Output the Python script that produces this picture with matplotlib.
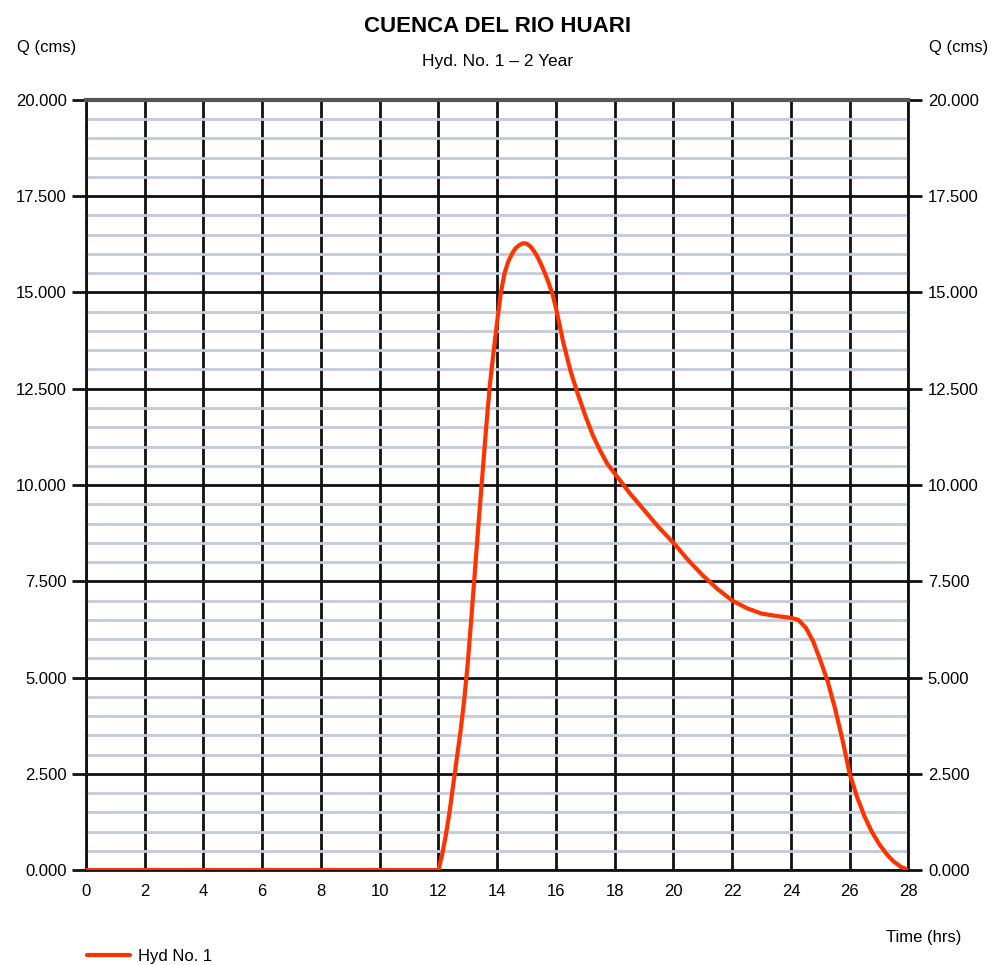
import matplotlib
matplotlib.use("Agg")
import matplotlib.pyplot as plt
from matplotlib.ticker import FormatStrFormatter, MultipleLocator

plt.rcParams['font.family'] = ['Liberation Sans', 'DejaVu Sans']

# hydrograph (time in hrs, Q in cms)
time_hrs = [0, 12.0, 12.125, 12.25, 12.375, 12.5, 12.625, 12.75, 12.875, 13.0,
            13.125, 13.25, 13.375, 13.5, 13.625, 13.75, 13.875, 14.0, 14.125,
            14.25, 14.375, 14.5, 14.625, 14.75, 14.875, 15.0, 15.125, 15.25,
            15.375, 15.5, 15.625, 15.75, 15.875, 16.0, 16.25, 16.5, 16.75,
            17.0, 17.25, 17.5, 17.75, 18.0, 18.5, 19.0, 19.5, 20.0, 20.5,
            21.0, 21.5, 22.0, 22.5, 23.0, 23.5, 24.0, 24.25, 24.5, 24.75,
            25.0, 25.25, 25.5, 25.75, 26.0, 26.25, 26.5, 26.75, 27.0, 27.25,
            27.5, 27.75, 28.0]
q_cms = [0, 0, 0.4, 0.9, 1.5, 2.2, 2.9, 3.6, 4.4, 5.4,
         6.6, 7.85, 9.1, 10.3, 11.5, 12.6, 13.45, 14.25, 15.0,
         15.5, 15.8, 16.0, 16.15, 16.23, 16.28, 16.27, 16.2, 16.08,
         15.92, 15.72, 15.5, 15.25, 14.98, 14.6, 13.7, 12.95, 12.35,
         11.8, 11.3, 10.9, 10.55, 10.3, 9.8, 9.35, 8.9, 8.5, 8.05,
         7.65, 7.3, 7.0, 6.8, 6.66, 6.6, 6.55, 6.5, 6.3, 5.95,
         5.45, 4.9, 4.2, 3.4, 2.5, 1.9, 1.4, 1.0, 0.68, 0.42,
         0.22, 0.08, 0]

fig = plt.figure(figsize=(9.95, 9.65), dpi=100)
ax = fig.add_axes([0.0864, 0.0984, 0.8266, 0.798])

ax.set_xlim(0, 28)
ax.set_ylim(0, 20)
ax.xaxis.set_major_locator(MultipleLocator(2))
ax.yaxis.set_major_locator(MultipleLocator(2.5))
ax.yaxis.set_minor_locator(MultipleLocator(0.5))
ax.yaxis.set_major_formatter(FormatStrFormatter('%.3f'))

ax.grid(which='minor', axis='y', color='#c3cadc', lw=2)
ax.grid(which='major', axis='both', color='#111111', lw=2)
ax.set_axisbelow(True)

ax.plot(time_hrs, q_cms, color='#ff3300', lw=3, label='Hyd No. 1', zorder=3,
        solid_capstyle='round', solid_joinstyle='round')

for s in ['left', 'right', 'bottom']:
    ax.spines[s].set_linewidth(2)
    ax.spines[s].set_color('#111111')
ax.spines['top'].set_linewidth(3)
ax.spines['top'].set_color('#555555')

ax.tick_params(axis='y', which='major', length=10, width=2, color='#111111',
               left=True, right=True, labelleft=True, labelright=True,
               labelsize=12, pad=4)
ax.tick_params(axis='y', which='minor', length=0)
ax.tick_params(axis='x', length=0, labelsize=12, pad=10)

fig.text(0.5, 0.973, 'CUENCA DEL RIO HUARI', ha='center', va='center',
         fontsize=16, fontweight='bold')
fig.text(0.5, 0.936, 'Hyd. No. 1 \u2013 2 Year', ha='center', va='center',
         fontsize=12.5)
fig.text(0.047, 0.951, 'Q (cms)', ha='center', va='center', fontsize=12)
fig.text(0.963, 0.951, 'Q (cms)', ha='center', va='center', fontsize=12)
fig.text(0.928, 0.029, 'Time (hrs)', ha='center', va='center', fontsize=12)

fig.legend(loc='lower left', bbox_to_anchor=(0.072, -0.014), frameon=False,
           fontsize=12, handlelength=2.6, handletextpad=0.5)

fig.savefig('out.png', dpi=100)
